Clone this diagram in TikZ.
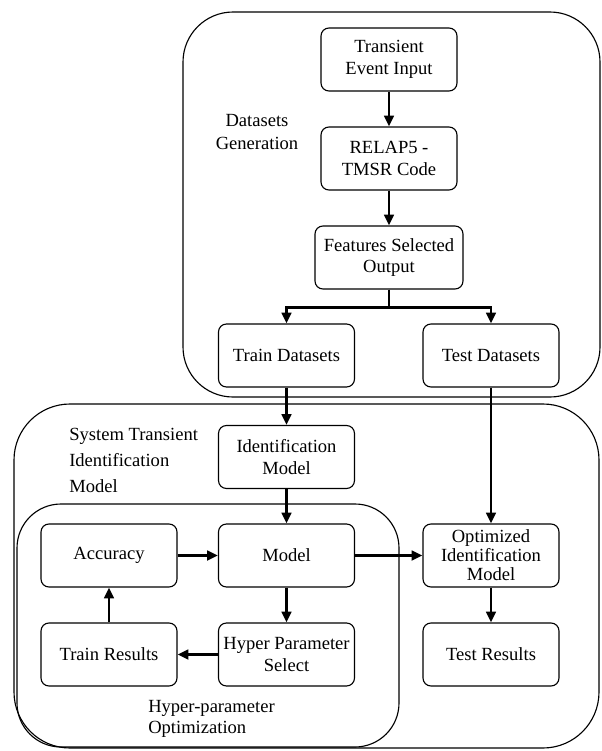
\documentclass[tikz,border=0pt]{standalone}
\usepackage{fontspec}
\setmainfont{Liberation Serif}
\usetikzlibrary{arrows.meta}

\begin{document}
\begin{tikzpicture}[x=0.025cm, y=-0.025cm,
    font=\fontsize{13.2}{15.6}\selectfont,
    box/.style={draw, line width=0.8pt, rounded corners=0.2cm, minimum width=3.4cm, minimum height=1.575cm, align=center, inner sep=1pt},
    frame/.style={draw, line width=0.8pt},
    arr/.style={line width=2.1pt, -{Triangle[length=0.27cm, width=0.24cm]}}]
    \useasboundingbox (0,0) rectangle (601,751);

    \draw[frame, rounded corners=1.25cm] (183,12) rectangle (600,397);
    \draw[frame, rounded corners=1.4cm] (14,404) rectangle (599,748);
    \draw[frame, rounded corners=1.1cm] (17,504) rectangle (399,747);

    \node[box] (input) at (389,59.5) {Transient\\Event Input};
    \node[box] (relap) at (389,158.5) {RELAP5 -\\TMSR Code};
    \node[box, minimum width=3.7cm] (feat) at (389,257.5) {Features Selected\\Output};
    \node[box] (train) at (286.5,355.5) {Train Datasets};
    \node[box] (test) at (491,355.5) {Test Datasets};
    \node[box] (ident) at (286.5,457) {Identification\\Model};
    \node[box] (acc) at (109,555.5) {Accuracy};
    \node[box] (model) at (286.5,555.5) {Model};
    \node[box] (trainres) at (109,654.5) {Train Results};
    \node[box] (hyper) at (286.5,654.5) {Hyper Parameter\\Select};
    \node[box, font=\fontsize{13.2}{13.5}\selectfont] (opt) at (491,555.5) {Optimized\\Identification\\Model};
    \node[box] (testres) at (491,654.5) {Test Results};

    \node[align=center, inner sep=0, font=\fontsize{13.2}{17}\selectfont] (gen) at (257,132) {Datasets\\Generation};
    \node[align=left, anchor=west, inner sep=0, font=\fontsize{13.2}{18.5}\selectfont] (sys) at (69,460) {System Transient\\Identification\\Model};
    \node[align=left, anchor=west, inner sep=0, font=\fontsize{13.2}{15}\selectfont] (hpo) at (148,719) {Hyper-parameter\\Optimization};

    \draw[arr] (input) -- (relap);
    \draw[arr] (relap) -- (feat);
    \draw[arr] (feat.south) -- ++(0,18) -| (train.north);
    \draw[arr] (feat.south) -- ++(0,18) -| (test.north);
    \draw[arr] (train) -- (ident);
    \draw[arr] (test) -- (opt);
    \draw[arr] (ident) -- (model);
    \draw[arr] (acc) -- (model);
    \draw[arr] (model) -- (opt);
    \draw[arr] (model) -- (hyper);
    \draw[arr] (hyper) -- (trainres);
    \draw[arr] (trainres) -- (acc);
    \draw[arr] (opt) -- (testres);
  \end{tikzpicture}
\end{document}
